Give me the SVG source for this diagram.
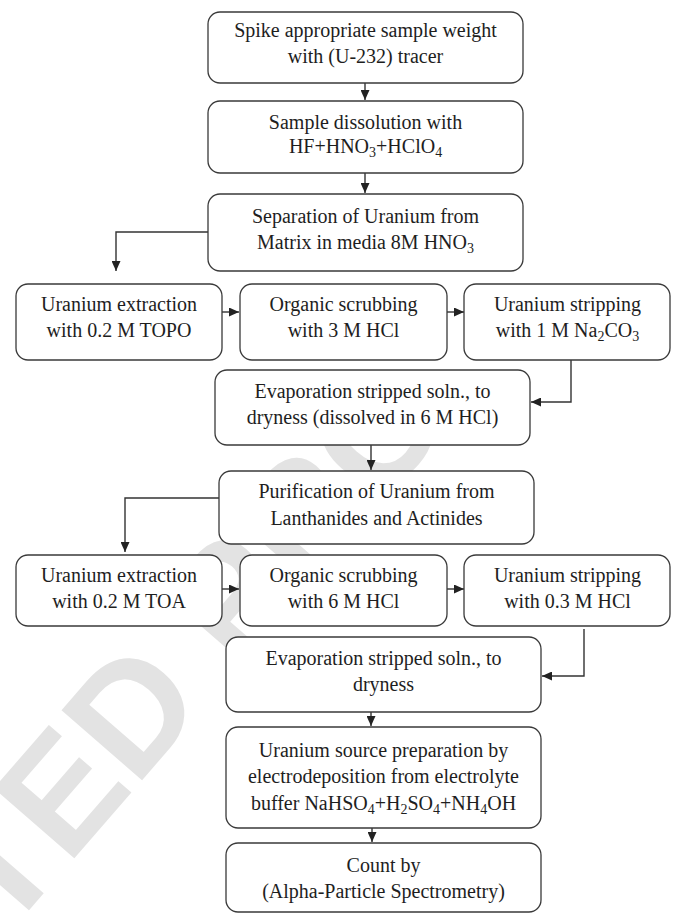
<svg xmlns="http://www.w3.org/2000/svg" width="679" height="914" viewBox="0 0 679 914">
<defs>
<style>
.box{fill:#fff;stroke:#3a3a3a;stroke-width:1.3}
.t{font-family:"Liberation Serif","Times New Roman",serif;font-size:20px;fill:#1e1e1e;text-anchor:middle}
.c{fill:none;stroke:#333;stroke-width:1.4;marker-end:url(#ah)}
.wm{font-family:"Liberation Sans",Arial,sans-serif;font-weight:bold;font-size:155px;fill:#e3e3e3;text-anchor:middle}
</style>
<marker id="ah" markerUnits="userSpaceOnUse" markerWidth="10" markerHeight="9" refX="10" refY="4.5" orient="auto">
<path d="M0,0 L10,4.5 L0,9 z" fill="#222"/>
</marker>
<clipPath id="wmclip"><polygon points="-50,0 -20,0 679,607 679,914 -50,914"/></clipPath>
</defs>
<rect width="679" height="914" fill="#fff"/>
<g clip-path="url(#wmclip)">
<text class="wm" x="124" y="801" transform="rotate(-49 124 801)">ACCEPTED PROOF</text>
</g>
<g id="connectors">
<path class="c" d="M365,83 V100"/>
<path class="c" d="M365,173 V193"/>
<path class="c" d="M208,232 H116 V271"/>
<path class="c" d="M222,312 H239"/>
<path class="c" d="M447,312 H464"/>
<path class="c" d="M571,360 V402 H531"/>
<path class="c" d="M371,445 V470"/>
<path class="c" d="M219,498 H125 V552"/>
<path class="c" d="M222,589 H239"/>
<path class="c" d="M447,589 H464"/>
<path class="c" d="M584,629 V676 H542"/>
<path class="c" d="M371,712 V726"/>
<path class="c" d="M372,828 V842"/>
</g>
<g id="n1"><rect class="box" x="208" y="12" width="315" height="71" rx="12"/>
<text class="t" x="365.5" y="37">Spike appropriate sample weight</text>
<text class="t" x="365.5" y="63">with (U-232) tracer</text></g>
<g id="n2"><rect class="box" x="208" y="101" width="315" height="72" rx="12"/>
<text class="t" x="365.5" y="129">Sample dissolution with</text>
<text class="t" x="365.5" y="153">HF+HNO<tspan font-size="14" dy="4">3</tspan><tspan dy="-4">+HClO</tspan><tspan font-size="14" dy="4">4</tspan></text></g>
<g id="n3"><rect class="box" x="208" y="194" width="315" height="77" rx="12"/>
<text class="t" x="365.5" y="223">Separation of Uranium from</text>
<text class="t" x="365.5" y="249">Matrix in media 8M HNO<tspan font-size="14" dy="4">3</tspan></text></g>
<g id="n4"><rect class="box" x="16" y="284" width="206" height="76" rx="12"/>
<text class="t" x="119" y="311">Uranium extraction</text>
<text class="t" x="119" y="337">with 0.2 M TOPO</text></g>
<g id="n5"><rect class="box" x="240" y="284" width="207" height="76" rx="12"/>
<text class="t" x="343.5" y="311">Organic scrubbing</text>
<text class="t" x="343.5" y="337">with 3 M HCl</text></g>
<g id="n6"><rect class="box" x="464" y="284" width="206" height="76" rx="12"/>
<text class="t" x="567.5" y="311">Uranium stripping</text>
<text class="t" x="567.5" y="337">with 1 M Na<tspan font-size="14" dy="4">2</tspan><tspan dy="-4">CO</tspan><tspan font-size="14" dy="4">3</tspan></text></g>
<g id="n7"><rect class="box" x="215" y="370" width="315" height="75" rx="12"/>
<text class="t" x="372.5" y="398">Evaporation stripped soln., to</text>
<text class="t" x="372.5" y="424">dryness (dissolved in 6 M HCl)</text></g>
<g id="n8"><rect class="box" x="219" y="471" width="315" height="73" rx="12"/>
<text class="t" x="376.5" y="498">Purification of Uranium from</text>
<text class="t" x="376.5" y="525">Lanthanides and Actinides</text></g>
<g id="n9"><rect class="box" x="16" y="555" width="206" height="71" rx="12"/>
<text class="t" x="119" y="582">Uranium extraction</text>
<text class="t" x="119" y="608">with 0.2 M TOA</text></g>
<g id="n10"><rect class="box" x="240" y="555" width="207" height="71" rx="12"/>
<text class="t" x="343.5" y="582">Organic scrubbing</text>
<text class="t" x="343.5" y="608">with 6 M HCl</text></g>
<g id="n11"><rect class="box" x="464" y="555" width="206" height="71" rx="12"/>
<text class="t" x="567.5" y="582">Uranium stripping</text>
<text class="t" x="567.5" y="608">with 0.3 M HCl</text></g>
<g id="n12"><rect class="box" x="226" y="637" width="315" height="75" rx="12"/>
<text class="t" x="383.5" y="665">Evaporation stripped soln., to</text>
<text class="t" x="383.5" y="691">dryness</text></g>
<g id="n13"><rect class="box" x="226" y="727" width="315" height="101" rx="12"/>
<text class="t" x="383.5" y="757">Uranium source preparation by</text>
<text class="t" x="383.5" y="783">electrodeposition from electrolyte</text>
<text class="t" x="383.5" y="810">buffer NaHSO<tspan font-size="14" dy="4">4</tspan><tspan dy="-4">+H</tspan><tspan font-size="14" dy="4">2</tspan><tspan dy="-4">SO</tspan><tspan font-size="14" dy="4">4</tspan><tspan dy="-4">+NH</tspan><tspan font-size="14" dy="4">4</tspan><tspan dy="-4">OH</tspan></text></g>
<g id="n14"><rect class="box" x="226" y="843" width="315" height="69" rx="12"/>
<text class="t" x="383.5" y="872">Count by</text>
<text class="t" x="383.5" y="898">(Alpha-Particle Spectrometry)</text></g>
</svg>
